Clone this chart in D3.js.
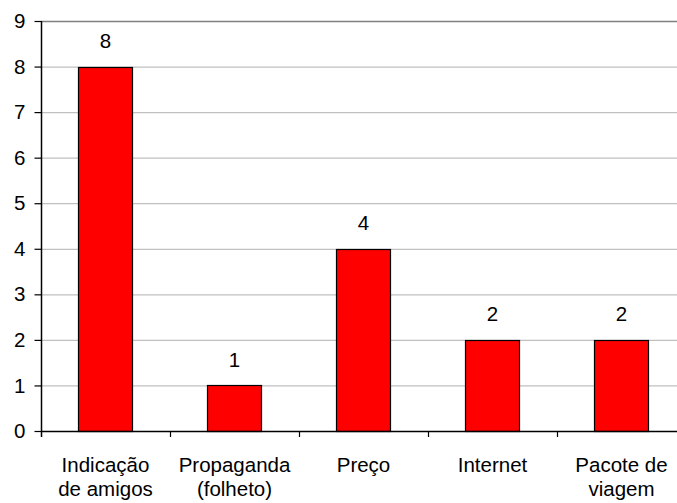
<!DOCTYPE html>
<html>
<head>
<meta charset="utf-8">
<script src="https://cdn.jsdelivr.net/npm/d3@7/dist/d3.min.js"></script>
<style>
  html, body { margin: 0; padding: 0; background: #fff; }
  svg { display: block; }
  text { font-family: "Liberation Sans", Arial, sans-serif; fill: #000; }
</style>
</head>
<body>
<svg id="chart" width="677" height="503"></svg>
<script>
const categories = [["Indicação", "de amigos"], ["Propaganda", "(folheto)"], ["Preço"], ["Internet"], ["Pacote de", "viagem"]];
const values = [8, 1, 4, 2, 2];
const yTicks = [0, 1, 2, 3, 4, 5, 6, 7, 8, 9];

const svg = d3.select("#chart");
const plotLeft = 41, plotRight = 686, plotTop = 21, plotBottom = 431;
const fontSize = 20.5;

const x = d3.scaleBand()
  .domain(d3.range(categories.length))
  .range([plotLeft, plotRight])
  .paddingInner(0.58)
  .paddingOuter(0.29);

const xOuter = d3.scaleBand()
  .domain(d3.range(categories.length))
  .range([plotLeft, plotRight]);

const y = d3.scaleLinear().domain([0, 9]).range([plotBottom, plotTop]);

// horizontal gridlines
svg.append("g")
  .selectAll("line")
  .data(yTicks.filter(d => d > 0))
  .join("line")
  .attr("x1", plotLeft).attr("x2", plotRight)
  .attr("y1", d => y(d) + 0.5).attr("y2", d => y(d) + 0.5)
  .attr("stroke", d => d === 9 ? "#808080" : "#c0c0c0")
  .attr("stroke-width", d => d === 9 ? 1.5 : 1.2);

// bars
svg.append("g")
  .selectAll("rect")
  .data(values)
  .join("rect")
  .attr("x", (d, i) => Math.round(x(i)) + 0.5)
  .attr("y", d => Math.round(y(d)) + 0.5)
  .attr("width", Math.round(x.bandwidth()))
  .attr("height", d => Math.round(y(0)) - Math.round(y(d)))
  .attr("fill", "#ff0000")
  .attr("stroke", "#000")
  .attr("stroke-width", 1.2);

// value labels
svg.append("g")
  .selectAll("text")
  .data(values)
  .join("text")
  .attr("x", (d, i) => x(i) + x.bandwidth() / 2)
  .attr("y", d => y(d) - 18.5)
  .attr("text-anchor", "middle")
  .attr("font-size", fontSize)
  .text(d => d);

// y axis
const yAxis = svg.append("g")
  .attr("transform", `translate(${plotLeft + 0.5},0)`)
  .call(d3.axisLeft(y).tickValues(yTicks).tickSize(7).tickPadding(9).tickFormat(d3.format("d")));
yAxis.select(".domain").attr("stroke", "#000").attr("stroke-width", 1.5).attr("d", `M0,${plotBottom + 6}V${plotTop}`);
yAxis.selectAll(".tick line").attr("stroke", "#000").attr("stroke-width", 1.2);
yAxis.selectAll(".tick text").attr("font-size", fontSize).attr("font-family", "Liberation Sans, Arial, sans-serif").attr("fill", "#000");

// x axis baseline and category separators
svg.append("line")
  .attr("x1", plotLeft).attr("x2", plotRight)
  .attr("y1", plotBottom + 0.5).attr("y2", plotBottom + 0.5)
  .attr("stroke", "#000").attr("stroke-width", 1.5);

svg.append("g")
  .selectAll("line")
  .data(d3.range(1, categories.length))
  .join("line")
  .attr("x1", i => Math.round(xOuter(i)) + 0.5).attr("x2", i => Math.round(xOuter(i)) + 0.5)
  .attr("y1", plotBottom).attr("y2", plotBottom + 6)
  .attr("stroke", "#000").attr("stroke-width", 1.2);

// category labels
const labels = svg.append("g")
  .selectAll("text")
  .data(categories)
  .join("text")
  .attr("x", (d, i) => x(i) + x.bandwidth() / 2)
  .attr("y", 471.5)
  .attr("text-anchor", "middle")
  .attr("font-size", fontSize);
labels.selectAll("tspan")
  .data(d => d)
  .join("tspan")
  .attr("x", function () { return d3.select(this.parentNode).attr("x"); })
  .attr("dy", (d, j) => j === 0 ? 0 : 24.5)
  .text(d => d);
</script>
</body>
</html>
